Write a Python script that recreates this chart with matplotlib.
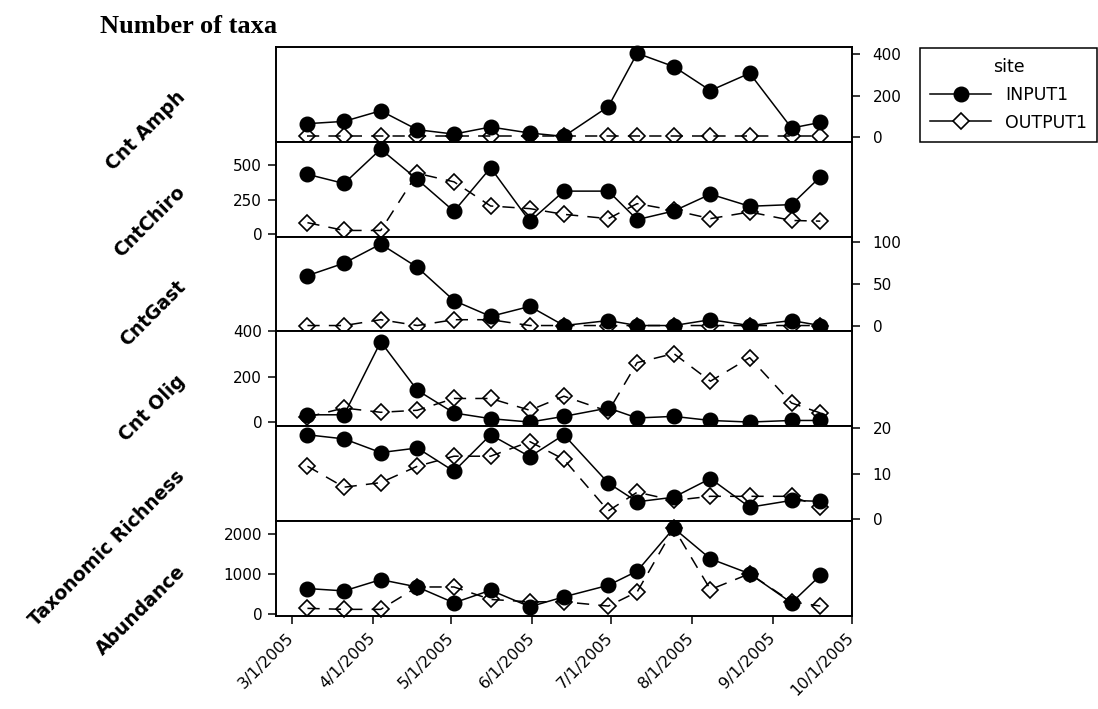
import matplotlib
matplotlib.use("Agg")
import matplotlib.pyplot as plt
from matplotlib.lines import Line2D
import pandas as pd

# ---- sampling dates ----
dates = pd.to_datetime([
    "2005-03-07", "2005-03-21", "2005-04-04", "2005-04-18", "2005-05-02",
    "2005-05-16", "2005-05-31", "2005-06-13", "2005-06-30", "2005-07-11",
    "2005-07-25", "2005-08-08", "2005-08-23", "2005-09-08", "2005-09-19",
])

# ---- counts per site ----
amph_in = [66, 77, 128, 37, 16, 50, 21, 5, 148, 404, 340, 225, 308, 45, 72]
amph_out = [5, 5, 5, 5, 5, 5, 5, 5, 5, 5, 5, 5, 5, 5, 5]

chiro_in = [433, 367, 614, 396, 167, 480, 94, 312, 312, 107, 169, 290, 203, 215, 415]
chiro_out = [85, 29, 29, 440, 379, 205, 186, 145, 114, 222, 174, 114, 162, 101, 96]

gast_in = [60, 75, 98, 70, 30, 11, 23, 0, 6, 0, 0, 7, 0, 6, 0]
gast_out = [0, 0, 7, 0, 7, 7, 0, 0, 0, 0, 0, 0, 0, 0, 0]

olig_in = [32, 32, 354, 140, 40, 15, 0, 25, 62, 18, 25, 7, 0, 7, 7]
olig_out = [22, 62, 43, 52, 104, 104, 52, 114, 47, 262, 302, 180, 284, 84, 40]

rich_in = [18.5, 17.6, 14.6, 15.6, 10.5, 18.5, 13.7, 18.5, 7.9, 3.8, 4.8, 8.9, 2.6, 4.1, 3.9]
rich_out = [11.6, 7.0, 8.0, 11.6, 13.8, 13.8, 17.0, 13.1, 1.8, 5.9, 4.1, 5.0, 5.0, 5.0, 2.7]

abund_in = [642, 583, 864, 681, 286, 600, 188, 435, 723, 1077, 2148, 1383, 1012, 286, 970]
abund_out = [148, 123, 123, 681, 681, 370, 311, 311, 205, 558, 2148, 617, 1012, 311, 205]

panel_names = ["Cnt Amph", "CntChiro", "CntGast", "Cnt Olig", "Taxonomic Richness", "Abundance"]
input_series = [amph_in, chiro_in, gast_in, olig_in, rich_in, abund_in]
output_series = [amph_out, chiro_out, gast_out, olig_out, rich_out, abund_out]
y_ticks = [[0, 200, 400], [0, 250, 500], [0, 50, 100], [0, 200, 400], [0, 10, 20], [0, 1000, 2000]]
y_limits = [(-21, 434), (-15, 667), (-7, 107), (-18, 400), (-0.4, 20.4), (-35, 2328)]
ticks_right = [True, False, True, False, True, False]

month_ticks = pd.to_datetime(["2005-03-01", "2005-04-01", "2005-05-01", "2005-06-01",
                              "2005-07-01", "2005-08-01", "2005-09-01", "2005-10-01"])
month_labels = ["3/1/2005", "4/1/2005", "5/1/2005", "6/1/2005",
                "7/1/2005", "8/1/2005", "9/1/2005", "10/1/2005"]

# ---- figure ----
plt.rcParams["font.family"] = ["DejaVu Sans"]
fig, axes = plt.subplots(6, 1, figsize=(10.98, 7.09), dpi=100, sharex=True,
                         gridspec_kw=dict(hspace=0))
fig.subplots_adjust(left=0.2514, right=0.7757, bottom=0.1316, top=0.9337)

lw = 1.1
for ax, name, y_in, y_out, yt, yl, right in zip(axes, panel_names, input_series,
                                                 output_series, y_ticks, y_limits, ticks_right):
    # OUTPUT1 dashed with open diamonds, INPUT1 solid with filled circles on top
    ax.plot(dates, y_out, color="black", lw=lw, linestyle=(0, (8, 6)),
            marker="D", ms=8, mfc="none", mec="black", mew=1.2, clip_on=False, zorder=3)
    ax.plot(dates, y_in, color="black", lw=lw, marker="o", ms=10.5,
            mfc="black", mec="black", clip_on=False, zorder=4)
    ax.set_ylim(*yl)
    ax.set_yticks(yt)
    if right:
        ax.yaxis.tick_right()
        ax.tick_params(axis="y", pad=9)
    else:
        ax.tick_params(axis="y", pad=4)
    ax.tick_params(axis="y", direction="out", length=6, width=1.1, labelsize=11)
    ax.tick_params(axis="x", bottom=False, labelbottom=False)
    for sp in ax.spines.values():
        sp.set_linewidth(1.4)
    ax.text(-0.163, 0.5, name, transform=ax.transAxes, rotation=45,
            rotation_mode="anchor", ha="right", va="center",
            fontsize=13.5, fontweight="bold")

bottom = axes[-1]
bottom.set_xlim(pd.Timestamp("2005-02-23"), pd.Timestamp("2005-10-01"))
bottom.set_xticks(month_ticks)
bottom.set_xticklabels(month_labels, rotation=45, ha="right", va="center",
                       rotation_mode="anchor")
bottom.tick_params(axis="x", bottom=True, labelbottom=True, direction="out",
                   length=6, width=1.1, labelsize=11.5, pad=8)

# ---- legend ----
handles = [
    Line2D([], [], color="black", lw=lw, marker="o", ms=10.5, mfc="black"),
    Line2D([], [], color="black", lw=lw, marker="D", ms=8, mfc="white", mec="black", mew=1.2),
]
leg = fig.legend(handles, ["INPUT1", "OUTPUT1"], title="site", loc="upper left",
                 bbox_to_anchor=(920 / 1098, 1 - 48 / 709), borderaxespad=0,
                 fancybox=False, edgecolor="black", framealpha=1,
                 handlelength=3.5, fontsize=12.5, title_fontsize=12.5,
                 borderpad=0.6, labelspacing=0.55)
leg.get_frame().set_linewidth(1.1)

fig.text(100 / 1098, 1 - 33 / 709, "Number of taxa", family="Liberation Serif",
         fontweight="bold", fontsize=19, ha="left", va="baseline")

fig.savefig("out.png", dpi=100)
